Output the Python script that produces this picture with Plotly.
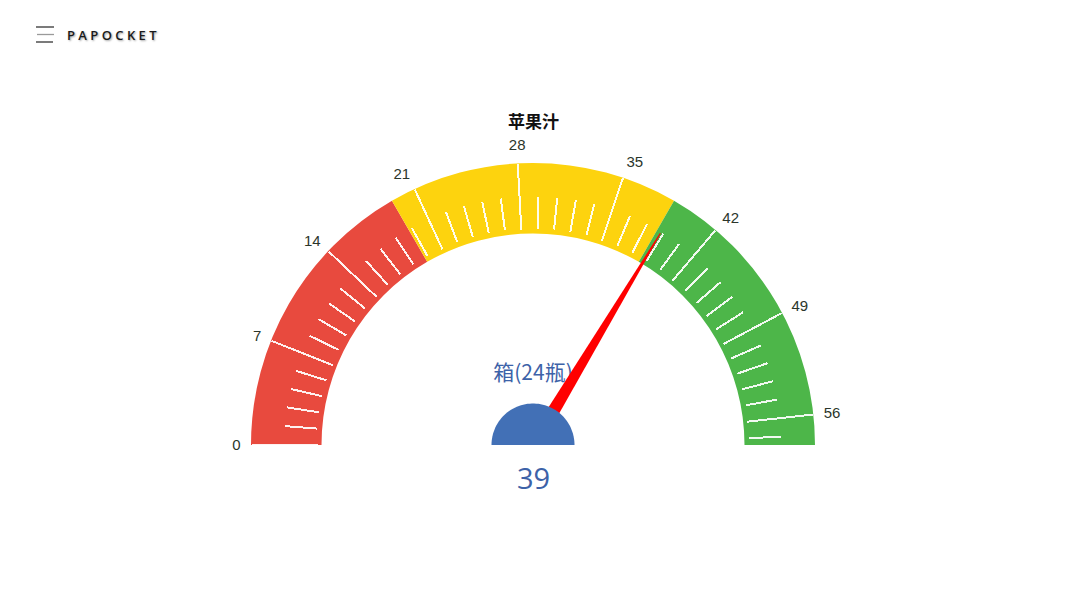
import numpy as np
import plotly.graph_objects as go

# ---- data ----
title = "苹果汁"
unit = "箱(24瓶)"
value = 39
axis_max = 58
major_ticks = [0, 7, 14, 21, 28, 35, 42, 49, 56]
minor_step = 1.4
band_edges = [0, 19.33, 38.67, 58]
band_colors = ["#E84A3E", "#FDD30E", "#4DB649"]
brand = "PAPOCKET"

minor_ticks = [round(m + k * minor_step, 1) for m in major_ticks for k in range(1, 5)
               if m + k * minor_step < axis_max]

# ---- page geometry (px) ----
W, H = 1080, 608
ml, mr, mt, mb = 233, 247, 143, 63
pw, ph = W - ml - mr, H - mt - mb
cx, cy, R = 533, 445, 282          # gauge centre and outer radius
r_minor = 249                       # outer end of the short ticks
r_label = 289                       # radius used to place the tick labels

blue = "#4270B6"
text_blue = "#3D62A8"
base = (H - mb - cy) / ph


def to_paper(px, py):
    return (px - ml) / pw, (H - mb - py) / ph


def ring(vals, length, labels):
    return dict(
        range=[0, axis_max],
        tickmode="array",
        tickvals=vals,
        ticktext=[str(t) for t in vals],
        showticklabels=labels,
        ticks="inside" if length else "",
        ticklen=length,
        tickwidth=2,
        tickcolor="rgba(255,255,255,0.92)",
        tickfont=dict(family="Liberation Sans", size=15, color="#2B362B"),
    )


clear = dict(color="rgba(0,0,0,0)", thickness=0)
fig = go.Figure()

# colour bands and long ticks
fig.add_trace(go.Indicator(
    mode="gauge", value=value,
    domain=dict(x=[0, 1], y=[base, base + R / ph]),
    gauge=dict(shape="angular", bgcolor="rgba(0,0,0,0)", borderwidth=0, bar=clear,
               steps=[dict(range=[band_edges[i], band_edges[i + 1]], color=band_colors[i])
                      for i in range(len(band_colors))],
               axis=ring(major_ticks, 66, False)),
))

# short ticks on the inner half of the band
fig.add_trace(go.Indicator(
    mode="gauge", value=value,
    domain=dict(x=[0, 1], y=[base, base + r_minor / ph]),
    gauge=dict(shape="angular", bgcolor="rgba(0,0,0,0)", borderwidth=0, bar=clear,
               axis=ring(minor_ticks, 32, False)),
))

# tick labels, a little further out
fig.add_trace(go.Indicator(
    mode="gauge", value=value,
    domain=dict(x=[0, 1], y=[base, base + r_label / ph]),
    gauge=dict(shape="angular", bgcolor="rgba(0,0,0,0)", borderwidth=0, bar=clear,
               axis=ring(major_ticks, 0, True)),
))

# unit text sits under the needle
fig.add_trace(go.Scatter(
    x=[0], y=[(cy - 375) / R], mode="text", text=[unit],
    textfont=dict(family="Noto Sans CJK SC", size=21, color=text_blue),
    hoverinfo="skip", showlegend=False, cliponaxis=False,
))

# needle and hub in gauge units (radius = 1)
theta = np.pi * (1 - value / axis_max)
u = np.array([np.cos(theta), np.sin(theta)])
n = np.array([-np.sin(theta), np.cos(theta)])
b1, b2 = 0.06 * u + 0.024 * n, 0.06 * u - 0.024 * n
t1, t2 = 0.876 * u + 0.002 * n, 0.876 * u - 0.002 * n
needle = "M {} {} L {} {} L {} {} L {} {} Z".format(b1[0], b1[1], t1[0], t1[1],
                                                   t2[0], t2[1], b2[0], b2[1])
hub_r = 41.5 / R
a = np.linspace(0, np.pi, 60)
hub = "M " + " L ".join("{} {}".format(hub_r * np.cos(t), hub_r * np.sin(t)) for t in a) + " Z"

shapes = [
    dict(type="path", path=needle, xref="x", yref="y", fillcolor="#FF0000",
         line=dict(width=0), layer="above"),
    dict(type="path", path=hub, xref="x", yref="y", fillcolor=blue,
         line=dict(width=0), layer="above"),
]

# menu icon, top left
for py, x0, x1, col in [(27, 36, 54, "#333333"), (34.5, 37, 54, "#9A9A9A"), (42, 36, 53, "#333333")]:
    px0, pyy = to_paper(x0, py)
    px1, _ = to_paper(x1, py)
    shapes.append(dict(type="line", xref="paper", yref="paper", x0=px0, x1=px1,
                       y0=pyy, y1=pyy, line=dict(color=col, width=1.3)))

tx, ty = to_paper(cx, 121)
vx, vy = to_paper(cx, 477)
bx, by = to_paper(65, 35)
annotations = [
    dict(x=tx, y=ty, xref="paper", yref="paper", text="<b>" + title + "</b>",
         showarrow=False, yanchor="middle",
         font=dict(family="Noto Sans CJK SC", size=17, color="#111111")),
    dict(x=vx, y=vy, xref="paper", yref="paper", text=str(value), showarrow=False,
         yanchor="middle", font=dict(family="Open Sans", size=29, color=text_blue)),
    dict(x=bx, y=by, xref="paper", yref="paper", text=" ".join(brand), showarrow=False,
         xanchor="left", yanchor="middle",
         font=dict(family="Open Sans", size=13, color="#1A1A1A",
                   weight=600, shadow="1px 1px 2px #A0A0A0")),
]

fig.update_layout(
    width=W, height=H,
    margin=dict(l=ml, r=mr, t=mt, b=mb),
    paper_bgcolor="white", plot_bgcolor="rgba(0,0,0,0)",
    showlegend=False,
    xaxis=dict(range=[-(cx - ml) / R, (ml + pw - cx) / R], visible=False, fixedrange=True),
    yaxis=dict(range=[-(H - mb - cy) / R, (cy - mt) / R], visible=False, fixedrange=True),
    shapes=shapes,
    annotations=annotations,
)

fig.write_html("out.html", config={"displayModeBar": False},
               post_script="document.body.style.margin='0px';")
